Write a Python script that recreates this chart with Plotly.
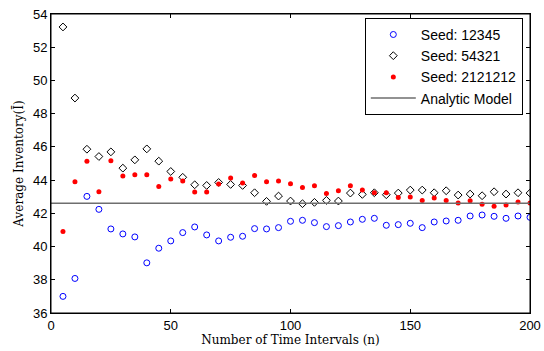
import plotly.graph_objects as go

n = list(range(5, 201, 5))

seed_12345 = [37.0, 38.08, 43.02, 42.24, 41.06, 40.76, 40.58, 39.02, 39.9, 40.34,
              40.84, 41.18, 40.7, 40.34, 40.56, 40.62, 41.08, 41.06, 41.14, 41.52,
              41.58, 41.44, 41.2, 41.26, 41.48, 41.64, 41.7, 41.28, 41.32, 41.4,
              41.14, 41.48, 41.54, 41.58, 41.84, 41.9, 41.82, 41.7, 41.84, 41.76]

seed_54321 = [53.22, 48.94, 45.86, 45.42, 45.7, 44.72, 45.22, 45.88, 45.14, 44.52,
              44.17, 43.72, 43.68, 43.86, 43.74, 43.68, 43.24, 42.72, 43.04, 42.74,
              42.58, 42.66, 42.78, 42.74, 43.22, 43.14, 43.24, 43.12, 43.22, 43.4,
              43.4, 43.24, 43.36, 43.1, 43.16, 43.06, 43.3, 43.16, 43.24, 43.22]

seed_2121212 = [40.9, 43.9, 45.14, 43.3, 45.16, 44.24, 44.32, 44.32, 43.62, 44.06,
                43.94, 43.28, 43.28, 43.76, 44.12, 43.82, 44.28, 43.9, 43.94, 43.78,
                43.56, 43.66, 43.2, 43.36, 43.66, 43.4, 43.24, 43.24, 42.96, 42.98,
                42.78, 42.92, 42.78, 42.62, 42.76, 42.54, 42.42, 42.5, 42.68, 42.62]

analytic_value = 42.6
x_range = [0, 200]
y_range = [36, 54]

fig = go.Figure()
fig.add_trace(go.Scatter(x=n, y=seed_12345, mode="markers", name="Seed: 12345",
                         marker=dict(symbol="circle-open", size=6, color="#0000ff",
                                     line=dict(width=1, color="#0000ff"))))
fig.add_trace(go.Scatter(x=n, y=seed_54321, mode="markers", name="Seed: 54321",
                         marker=dict(symbol="diamond-open", size=6, color="#000000",
                                     line=dict(width=1, color="#000000"))))
fig.add_trace(go.Scatter(x=n, y=seed_2121212, mode="markers", name="Seed: 2121212",
                         marker=dict(symbol="circle", size=5, color="#ff0000")))
fig.add_trace(go.Scatter(x=x_range, y=[analytic_value, analytic_value], mode="lines",
                         name="Analytic Model", line=dict(color="#6e6e6e", width=1.5)))

axis_common = dict(showgrid=False, zeroline=False, showline=True, linecolor="black",
                   linewidth=1, mirror="ticks", ticks="inside", ticklen=4,
                   tickcolor="black", automargin=False, ticklabeloverflow="allow",
                   tickfont=dict(family="Liberation Sans, Arial", size=13, color="black"))

fig.update_layout(
    width=544, height=351,
    margin=dict(l=51, r=14, t=14, b=38, autoexpand=False),
    paper_bgcolor="white", plot_bgcolor="white",
    showlegend=True,
    legend=dict(x=0.985, y=0.987, xanchor="right", yanchor="top",
                bgcolor="white", bordercolor="black", borderwidth=1,
                font=dict(family="Liberation Sans, Arial", size=14, color="black"),
                tracegroupgap=0, itemwidth=45),
    xaxis=dict(range=x_range, tickvals=[0, 50, 100, 150, 200],
               title=dict(text="Number of Time Intervals (n)", standoff=0,
                          font=dict(family="DejaVu Serif, Liberation Serif", size=12, color="black")),
               **axis_common),
    yaxis=dict(range=y_range, tickvals=list(range(36, 55, 2)),
               title=dict(text="Average Inventory(Ī)", standoff=6,
                          font=dict(family="DejaVu Serif, Liberation Serif", size=12, color="black")),
               **axis_common),
    shapes=[dict(type="rect", xref="paper", yref="paper", x0=0, x1=1, y0=0, y1=1,
                 line=dict(color="black", width=1), fillcolor="rgba(0,0,0,0)", layer="above")],
)

fig.write_html("out.html", config={"displayModeBar": False},
               post_script="document.body.style.margin='0';document.body.style.padding='0';")
